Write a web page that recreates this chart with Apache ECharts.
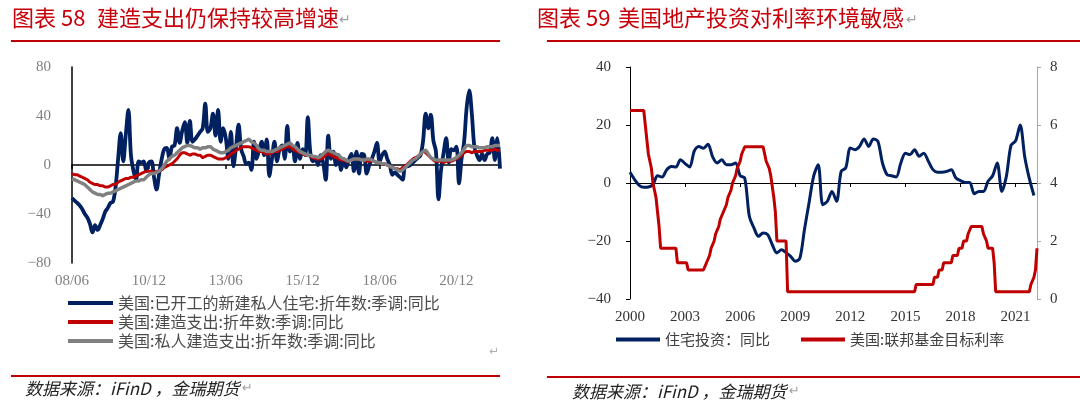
<!DOCTYPE html>
<html><head><meta charset="utf-8">
<script src="https://cdn.jsdelivr.net/npm/echarts@6/dist/echarts.min.js"></script>
<style>html,body{margin:0;padding:0;background:#fff}#c{width:1080px;height:406px}</style>
</head><body><div id="c"></div>
<script>
// ---------- Chart 58: monthly, 2008/06 .. 2022/05 ----------
const cat58 = [];
for (let y = 2008, m = 6; cat58.length < 168; ) {
  cat58.push(String(y % 100).padStart(2, '0') + '/' + String(m).padStart(2, '0'));
  m++; if (m > 12) { m = 1; y++; }
}
const startsYoY = [
  -27,-29,-31,-33,-36,-40,-43,-48,-55,-49,-53,-49,
  -44,-38,-35,-31,-30,-18,5,26,3,25,45,8,
  -5,-12,3,2,3,-5,2,3,-10,-20,-7,5,
  13,14,5,15,16,30,18,28,35,18,36,19,
  21,24,27,30,50,27,30,42,24,45,19,30,
  22,5,27,-1,15,33,13,7,1,2,-4,19,
  5,12,19,8,21,-9,5,19,3,13,16,5,
  32,11,15,3,18,5,13,8,39,10,3,5,
  0,8,2,-12,24,5,11,0,8,-4,5,-2,
  4,9,-5,11,-7,9,8,-7,0,5,11,18,
  3,8,11,5,0,-8,-6,-8,-10,-12,-1,-1,
  0,2,4,6,8,20,42,30,41,20,11,-28,
  -4,10,22,2,13,12,15,-15,5,19,47,61,
  42,15,8,4,9,4,9,10,22,4,22,-3
];
const spendYoY = [
  -7,-8,-8,-9,-10,-11,-12,-14,-15,-16,-16,-17,
  -17,-18,-18,-17,-16,-16,-14,-13,-12,-11,-11,-10,
  -10,-9,-8,-7,-6,-5,-5,-5,-6,-5,-5,-4,
  -2,-1,0,1,3,5,8,10,10,9,8,9,
  9,8,8,6,7,8,8,7,6,5,5,5,
  6,7,9,10,12,13,14,15,15,15,14,13,
  12,11,11,10,9,9,10,11,11,12,13,14,
  15,15,13,12,11,10,9,8,8,7,6,5,
  5,5,6,8,9,8,7,6,5,4,4,3,
  3,4,5,5,5,4,4,3,3,4,3,2,
  2,1,1,0,-1,-2,-3,-3,-4,-2,-1,1,
  3,5,6,7,9,11,10,8,6,4,3,3,
  3,2,3,3,3,4,5,6,8,10,11,11,
  10,11,11,11,11,12,12,12,12,13,12,12
];
const privSpendYoY = [
  -11,-12,-13,-14,-15,-16,-18,-20,-22,-23,-24,-24,
  -25,-24,-23,-23,-22,-21,-20,-19,-18,-17,-16,-15,
  -14,-13,-13,-12,-12,-10,-8,-7,-7,-6,-5,-3,
  0,3,5,7,8,10,12,14,15,16,16,15,
  14,14,13,14,14,15,15,13,12,11,10,10,
  11,12,14,15,16,17,18,19,20,21,19,18,
  16,13,12,12,11,11,11,12,13,14,15,16,
  17,18,16,15,13,11,10,9,8,8,7,7,
  6,7,9,11,12,11,10,9,8,6,5,4,
  3,4,5,5,5,4,4,5,5,4,3,2,
  2,1,1,0,-1,-2,-3,-4,-5,-4,-2,0,
  2,4,5,7,9,11,12,9,6,5,4,4,
  4,4,4,4,4,5,6,8,10,13,16,16,
  15,15,15,14,14,14,15,15,15,16,16,16
];
const names58 = ['美国:已开工的新建私人住宅:折年数:季调:同比', '美国:建造支出:折年数:季调:同比', '美国:私人建造支出:折年数:季调:同比'];

// ---------- Chart 59: monthly axis 2000-01 .. 2022-03 ----------
const cat59 = [];
for (let y = 2000, m = 1; cat59.length < 267; ) {
  cat59.push(y + '-' + String(m).padStart(2, '0'));
  m++; if (m > 12) { m = 1; y++; }
}
const resInvQuarters = [
  '2000-01','2000-04','2000-07','2000-10','2001-01','2001-04','2001-07','2001-10',
  '2002-01','2002-04','2002-07','2002-10','2003-01','2003-04','2003-07','2003-10',
  '2004-01','2004-04','2004-07','2004-10','2005-01','2005-04','2005-07','2005-10',
  '2006-01','2006-04','2006-07','2006-10','2007-01','2007-04','2007-07','2007-10',
  '2008-01','2008-04','2008-07','2008-10','2009-01','2009-04','2009-07','2009-10',
  '2010-01','2010-04','2010-07','2010-10','2011-01','2011-04','2011-07','2011-10',
  '2012-01','2012-04','2012-07','2012-10','2013-01','2013-04','2013-07','2013-10',
  '2014-01','2014-04','2014-07','2014-10','2015-01','2015-04','2015-07','2015-10',
  '2016-01','2016-04','2016-07','2016-10','2017-01','2017-04','2017-07','2017-10',
  '2018-01','2018-04','2018-07','2018-10','2019-01','2019-04','2019-07','2019-10',
  '2020-01','2020-04','2020-07','2020-10','2021-01','2021-04','2021-07','2021-10',
  '2022-01'
];
const resInvYoY = [
  3.7,1.2,-0.8,-1.5,-1.4,-0.5,2.5,2.1,
  4.6,5.7,5.5,8.0,6.7,5.5,11.0,12.6,
  12.0,13.4,9.0,6.9,8.0,6.3,6.3,6.9,
  2.5,1.7,-11.5,-15.5,-18.4,-17.2,-17.8,-21.3,
  -24.1,-23.0,-24.0,-25.3,-27.0,-26.0,-16.1,-6.9,
  2.3,6.3,-7.5,-6.3,-2.9,-6.3,4.0,5.2,
  12.1,11.5,12.6,15.2,12.6,15.2,14.4,6.9,
  2.9,2.5,2.1,6.9,10.3,9.8,11.5,9.2,
  10.3,7.5,4.6,3.7,3.7,4.0,4.6,1.7,
  0.8,0.2,0.2,-3.7,-2.9,-2.9,0.6,2.5,
  6.9,-2.9,2.3,13.0,14.5,20.0,9.0,1.5,
  -4.3
];
const fedDates = [
  '2000-01','2000-10','2000-11','2000-12','2001-01','2001-02','2001-03','2001-04','2001-05','2001-06','2001-07','2001-08',
  '2001-09','2002-07','2002-08','2003-02','2003-03','2004-01','2004-03','2004-05','2004-06','2004-08','2004-09','2004-11',
  '2004-12','2005-02','2005-04','2005-05','2005-07','2005-08','2005-10','2005-11','2006-01','2006-02','2006-04','2007-04',
  '2007-05','2007-06','2007-08','2007-09','2007-10','2007-11','2007-12','2008-01','2008-07','2008-08','2015-07','2015-08',
  '2016-07','2016-08','2016-10','2016-11','2017-01','2017-02','2017-07','2017-08','2017-11','2017-12','2018-02','2018-03',
  '2018-05','2018-06','2018-07','2018-08','2019-03','2019-04','2019-05','2019-06','2019-07','2019-10','2019-11','2019-12',
  '2021-10','2021-11','2022-01','2022-02','2022-03'
];
const fedRate = [
  6.5,6.5,6.0,5.5,5.0,4.75,4.5,4.0,3.75,3.5,3.0,2.5,
  1.75,1.75,1.25,1.25,1.0,1.0,1.25,1.5,1.75,2.0,2.25,2.5,
  2.75,3.0,3.25,3.5,3.75,4.0,4.25,4.5,4.75,5.0,5.25,5.25,
  5.0,4.75,4.5,4.25,4.25,3.5,3.0,2.0,2.0,0.25,0.25,0.5,
  0.5,0.75,0.75,1.0,1.0,1.25,1.25,1.5,1.5,1.75,1.75,2.0,
  2.0,2.25,2.25,2.5,2.5,2.25,2.25,2.0,1.75,1.75,1.25,0.25,
  0.25,0.5,0.75,1.0,1.75
];
const names59 = ['住宅投资：同比', '美国:联邦基金目标利率'];

const SERIF = '"Liberation Serif", "DejaVu Serif", serif';
const CJK = '"Noto Sans CJK SC", sans-serif';
const NAVY = '#002060', RED = '#c00000', GRAY = '#808080';
const neg = v => String(v).replace('-', '\u2212');

const chart = echarts.init(document.getElementById('c'), null, { renderer: 'canvas' });
chart.setOption({
  animation: false,
  backgroundColor: '#fff',
  grid: [
    { left: 72, top: 67, width: 428, height: 196, outerBoundsMode: 'none', containLabel: false },
    { left: 630, top: 67, width: 407, height: 232, outerBoundsMode: 'none', containLabel: false }
  ],
  xAxis: [
    { gridIndex: 0, type: 'category', data: cat58, boundaryGap: false, position: 'bottom',
      axisLine: { show: false, onZero: false }, axisTick: { show: false }, splitLine: { show: false },
      axisLabel: { interval: 29, color: '#7f7f7f', fontFamily: SERIF, fontSize: 15, margin: 11 } },
    { gridIndex: 0, type: 'category', data: cat58, boundaryGap: false, position: 'top',
      axisLine: { show: true, onZero: true, onZeroAxisIndex: 0, lineStyle: { color: '#000', width: 1.5 } },
      axisTick: { show: true, inside: true, interval: 29, length: 4, lineStyle: { color: '#000', width: 1.5 } },
      axisLabel: { show: false, interval: 29 }, splitLine: { show: false } },
    { gridIndex: 1, type: 'category', data: cat59, boundaryGap: false, position: 'bottom',
      axisLine: { show: false, onZero: false }, axisTick: { show: false }, splitLine: { show: false },
      axisLabel: { interval: 35, color: '#333', fontFamily: SERIF, fontSize: 15, margin: 11, formatter: v => v.slice(0, 4) } },
    { gridIndex: 1, type: 'category', data: cat59, boundaryGap: false, position: 'top',
      axisLine: { show: true, onZero: true, onZeroAxisIndex: 1, lineStyle: { color: '#000', width: 1 } },
      axisTick: { show: true, inside: true, interval: 35, length: 4, lineStyle: { color: '#000', width: 1 } },
      axisLabel: { show: false, interval: 35 }, splitLine: { show: false } }
  ],
  yAxis: [
    { gridIndex: 0, type: 'value', min: -80, max: 80, interval: 40,
      axisLine: { show: true, onZero: false, lineStyle: { color: '#000', width: 1.5 } },
      axisTick: { show: false }, splitLine: { show: false },
      axisLabel: { color: '#7f7f7f', fontFamily: SERIF, fontSize: 15, margin: 21, formatter: neg } },
    { gridIndex: 1, type: 'value', min: -40, max: 40, interval: 20, position: 'left',
      axisLine: { show: true, onZero: false, lineStyle: { color: '#000', width: 1 } },
      axisTick: { show: true, length: 4, lineStyle: { color: '#000' } }, splitLine: { show: false },
      axisLabel: { color: '#333', fontFamily: SERIF, fontSize: 15, margin: 19, formatter: neg } },
    { gridIndex: 1, type: 'value', min: 0, max: 8, interval: 2, position: 'right',
      axisLine: { show: true, onZero: false, lineStyle: { color: '#a6a6a6', width: 1 } },
      axisTick: { show: true, length: 4, lineStyle: { color: '#a6a6a6' } }, splitLine: { show: false },
      axisLabel: { color: '#333', fontFamily: SERIF, fontSize: 15, margin: 13 } }
  ],
  legend: [
    { data: names58, orient: 'vertical', left: 68, top: 295, itemWidth: 45, itemHeight: 4, itemGap: 3,
      icon: 'rect', padding: 0, textStyle: { fontSize: 16, color: '#4a4a4a', fontFamily: CJK } },
    { data: names59, orient: 'horizontal', left: 616, top: 332, itemWidth: 44, itemHeight: 4, itemGap: 31,
      icon: 'rect', padding: 0, textStyle: { fontSize: 15, color: '#404040', fontFamily: CJK } }
  ],
  series: [
    { type: 'line', name: names58[0], xAxisIndex: 0, yAxisIndex: 0, data: startsYoY, symbol: 'none', smooth: 0.35,
      lineStyle: { color: NAVY, width: 3.8 }, itemStyle: { color: NAVY } },
    { type: 'line', name: names58[1], xAxisIndex: 0, yAxisIndex: 0, data: spendYoY, symbol: 'none', smooth: 0.2,
      lineStyle: { color: RED, width: 3 }, itemStyle: { color: RED } },
    { type: 'line', name: names58[2], xAxisIndex: 0, yAxisIndex: 0, data: privSpendYoY, symbol: 'none', smooth: 0.2,
      lineStyle: { color: GRAY, width: 3.5 }, itemStyle: { color: GRAY } },
    { type: 'line', name: names59[0], xAxisIndex: 2, yAxisIndex: 1,
      data: resInvQuarters.map((q, i) => [q, resInvYoY[i]]), symbol: 'none', smooth: 0.3,
      lineStyle: { color: NAVY, width: 3 }, itemStyle: { color: NAVY } },
    { type: 'line', name: names59[1], xAxisIndex: 2, yAxisIndex: 2,
      data: fedDates.map((d, i) => [d, fedRate[i]]), symbol: 'none',
      lineStyle: { color: RED, width: 3 }, itemStyle: { color: RED } }
  ],
  graphic: [
    { type: 'text', style: { text: '图表 58', x: 12, y: 18, font: '22px ' + CJK, fill: '#c8000a', verticalAlign: 'middle' } },
    { type: 'text', style: { text: '建造支出仍保持较高增速', x: 97, y: 18, font: '22px ' + CJK, fill: '#c8000a', verticalAlign: 'middle' } },
    { type: 'text', style: { text: '\u21b5', x: 339, y: 20, font: '14px "DejaVu Sans"', fill: '#a0a0a0', verticalAlign: 'middle' } },
    { type: 'text', style: { text: '图表 59', x: 537, y: 18, font: '22px ' + CJK, fill: '#c8000a', verticalAlign: 'middle' } },
    { type: 'text', style: { text: '美国地产投资对利率环境敏感', x: 618, y: 18, font: '22px ' + CJK, fill: '#c8000a', verticalAlign: 'middle' } },
    { type: 'text', style: { text: '\u21b5', x: 906, y: 20, font: '14px "DejaVu Sans"', fill: '#a0a0a0', verticalAlign: 'middle' } },
    { type: 'rect', shape: { x: 11, y: 40, width: 489, height: 2 }, style: { fill: '#c00000' } },
    { type: 'rect', shape: { x: 547, y: 40, width: 533, height: 2 }, style: { fill: '#c00000' } },
    { type: 'rect', shape: { x: 11, y: 375, width: 489, height: 2 }, style: { fill: '#c00000' } },
    { type: 'rect', shape: { x: 547, y: 376, width: 533, height: 2 }, style: { fill: '#c00000' } },
    { type: 'text', style: { text: '\u21b5', x: 489, y: 352, font: '12px "DejaVu Sans"', fill: '#b0b0b0', verticalAlign: 'middle' } },
    { type: 'text', style: { text: '数据来源：iFinD ，金瑞期货', x: 25, y: 389, font: 'italic 17px ' + CJK, fill: '#222', verticalAlign: 'middle' } },
    { type: 'text', style: { text: '\u21b5', x: 242, y: 389, font: '13px "DejaVu Sans"', fill: '#a0a0a0', verticalAlign: 'middle' } },
    { type: 'text', style: { text: '数据来源：iFinD ，金瑞期货', x: 572, y: 392, font: 'italic 17px ' + CJK, fill: '#222', verticalAlign: 'middle' } },
    { type: 'text', style: { text: '\u21b5', x: 789, y: 392, font: '13px "DejaVu Sans"', fill: '#a0a0a0', verticalAlign: 'middle' } }
  ]
});
</script>
</body></html>
